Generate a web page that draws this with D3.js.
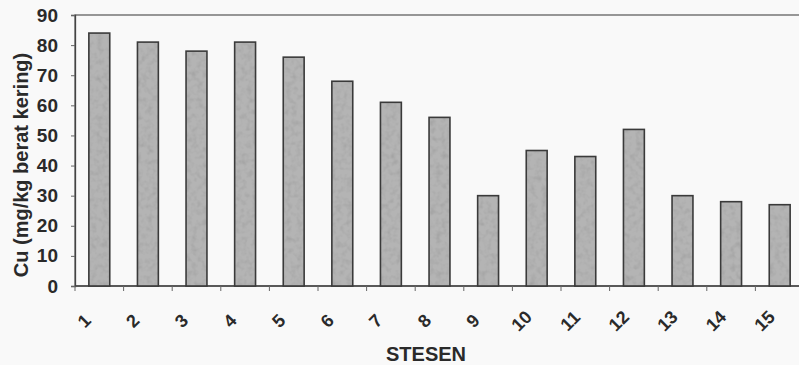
<!DOCTYPE html>
<html>
<head>
<meta charset="utf-8">
<script src="https://cdn.jsdelivr.net/npm/d3@7"></script>
<style>
  body { margin: 0; background: #f9f9f9; }
  svg { display: block; }
  .tick-lbl { font-family: 'Liberation Sans', Arial, sans-serif; font-weight: bold; }
</style>
</head>
<body>
<div id="chart"></div>
<script>
// station numbers along the x axis
const stations = ['1', '2', '3', '4', '5', '6', '7', '8', '9', '10', '11', '12', '13', '14', '15'];
// Cu concentration (mg/kg dry weight)
const cuValues = [84, 81, 78, 81, 76, 68, 61, 56, 30, 45, 43, 52, 30, 28, 27];
const yTicks = [0, 10, 20, 30, 40, 50, 60, 70, 80, 90];

const width = 799;
const height = 365;
const margin = { top: 15, right: -5, bottom: 79, left: 75 };
const font = "'Liberation Sans', Arial, sans-serif";

const svg = d3.select('#chart')
  .append('svg')
  .attr('width', width)
  .attr('height', height);

// mottled grey texture like the scanned bars
const filter = svg.append('defs').append('filter').attr('id', 'grain')
  .attr('x', 0).attr('y', 0).attr('width', 1).attr('height', 1);
filter.append('feTurbulence')
  .attr('type', 'fractalNoise')
  .attr('baseFrequency', 0.18)
  .attr('numOctaves', 2)
  .attr('seed', 7)
  .attr('result', 'noise');
filter.append('feColorMatrix')
  .attr('in', 'noise')
  .attr('type', 'saturate')
  .attr('values', 0)
  .attr('result', 'grey');
const ct = filter.append('feComponentTransfer').attr('in', 'grey').attr('result', 'soft');
['feFuncR', 'feFuncG', 'feFuncB'].forEach(f => {
  ct.append(f).attr('type', 'linear').attr('slope', 0.5).attr('intercept', 0.72);
});
ct.append('feFuncA').attr('type', 'linear').attr('slope', 0).attr('intercept', 1);
filter.append('feComposite')
  .attr('in', 'SourceGraphic')
  .attr('in2', 'soft')
  .attr('operator', 'arithmetic')
  .attr('k1', 1).attr('k2', 0).attr('k3', 0).attr('k4', 0)
  .attr('result', 'mult');
filter.append('feComposite')
  .attr('in', 'mult')
  .attr('in2', 'SourceGraphic')
  .attr('operator', 'in');

const innerW = width - margin.left - margin.right;
const innerH = height - margin.top - margin.bottom;

const group = svg.append('g').attr('transform', 'translate(' + margin.left + ',' + margin.top + ')');

const x = d3.scaleBand().domain(stations).range([0, innerW])
  .paddingInner(0.57).paddingOuter(0.285);
const y = d3.scaleLinear().domain([0, 90]).range([innerH, 0]);

// plot frame
group.append('rect')
  .attr('x', 0).attr('y', 0)
  .attr('width', innerW).attr('height', innerH)
  .attr('fill', 'none')
  .attr('stroke', '#555')
  .attr('stroke-width', 1.2);

/* Y axis */
const yAxis = group.append('g')
  .call(d3.axisLeft(y).tickValues(yTicks).tickSize(4).tickPadding(13));
yAxis.select('.domain').attr('stroke', '#444').attr('stroke-width', 1.3);
yAxis.selectAll('line').attr('stroke', '#666');
yAxis.selectAll('text')
  .attr('class', 'tick-lbl')
  .style('font-size', '19px')
  .attr('fill', '#2a2a2a');

/* X axis: ticks between categories */
const step = x.step();
const bounds = d3.range(stations.length + 1).map(i => x(stations[0]) - step * x.paddingInner() / 2 + i * step);
group.append('line')
  .attr('x1', 0).attr('x2', innerW)
  .attr('y1', innerH).attr('y2', innerH)
  .attr('stroke', '#444').attr('stroke-width', 1.3);
group.selectAll('.xtick')
  .data(bounds)
  .enter()
  .append('line')
  .attr('class', 'xtick')
  .attr('x1', d => d).attr('x2', d => d)
  .attr('y1', innerH).attr('y2', innerH + 5)
  .attr('stroke', '#666');

group.selectAll('.xlbl')
  .data(stations)
  .enter()
  .append('text')
  .attr('class', 'tick-lbl')
  .attr('text-anchor', 'middle')
  .attr('dominant-baseline', 'central')
  .style('font-size', '18px')
  .attr('fill', '#2a2a2a')
  .attr('transform', d => 'translate(' + (x(d) + x.bandwidth() / 2 - 15) + ',' + (innerH + 35) + ') rotate(-45)')
  .text(d => d);

/* Bars */
group.selectAll('.bar')
  .data(cuValues)
  .enter()
  .append('rect')
  .attr('class', 'bar')
  .attr('x', (d, i) => x(stations[i]))
  .attr('y', d => y(d))
  .attr('width', x.bandwidth())
  .attr('height', d => innerH - y(d))
  .attr('fill', '#b4b4b4')
  .attr('filter', 'url(#grain)');

group.selectAll('.bar-edge')
  .data(cuValues)
  .enter()
  .append('rect')
  .attr('class', 'bar-edge')
  .attr('x', (d, i) => x(stations[i]))
  .attr('y', d => y(d))
  .attr('width', x.bandwidth())
  .attr('height', d => innerH - y(d))
  .attr('fill', 'none')
  .attr('stroke', '#3a3a3a')
  .attr('stroke-width', 1.6);

/* Axis titles */
svg.append('text')
  .attr('text-anchor', 'middle')
  .attr('x', 426)
  .attr('y', 361)
  .style('font-family', font)
  .style('font-weight', 'bold')
  .style('font-size', '20px')
  .attr('fill', '#2a2a2a')
  .text('STESEN');

svg.append('text')
  .attr('transform', 'rotate(-90)')
  .attr('x', -165)
  .attr('y', 28)
  .attr('text-anchor', 'middle')
  .style('font-family', font)
  .style('font-weight', 'bold')
  .style('font-size', '20px')
  .attr('fill', '#2a2a2a')
  .text('Cu (mg/kg berat kering)');
</script>
</body>
</html>
